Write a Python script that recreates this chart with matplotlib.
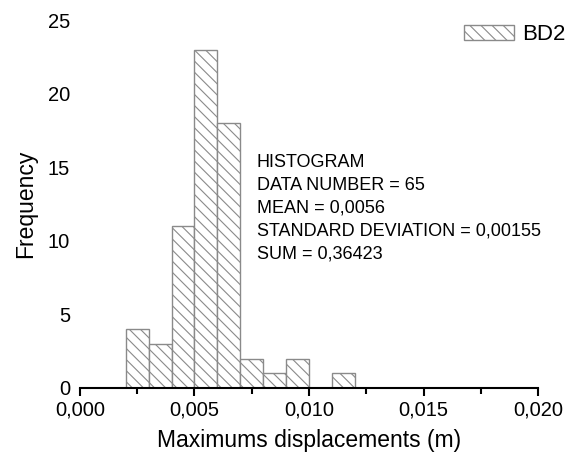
import numpy as np
import matplotlib.pyplot as plt
from matplotlib.ticker import MultipleLocator, FuncFormatter

plt.rcParams['font.family'] = ['Liberation Sans', 'DejaVu Sans']
plt.rcParams['hatch.color'] = '#6a6a6a'
plt.rcParams['hatch.linewidth'] = 0.8

# histogram of maximum displacements (bin width 1 mm)
bin_edges = [0.002, 0.003, 0.004, 0.005, 0.006, 0.007, 0.008, 0.009, 0.010, 0.011, 0.012]
counts = [4, 3, 11, 23, 18, 2, 1, 2, 0, 1]

stats_lines = [
    "HISTOGRAM",
    "DATA NUMBER = 65",
    "MEAN = 0,0056",
    "STANDARD DEVIATION = 0,00155",
    "SUM = 0,36423",
]

fig = plt.figure(figsize=(5.87, 4.57), dpi=100)
ax = fig.add_axes([0.136, 0.151, 0.781, 0.805])

left = np.array(bin_edges[:-1])
width = np.diff(bin_edges)
ax.bar(left, counts, width=width, align='edge', color='white',
       edgecolor='#8a8a8a', linewidth=1.0, hatch='\\\\\\', label='BD2')

ax.set_xlim(0, 0.02)
ax.set_ylim(0, 25)
ax.xaxis.set_major_locator(MultipleLocator(0.005))
ax.xaxis.set_minor_locator(MultipleLocator(0.0025))
ax.yaxis.set_major_locator(MultipleLocator(5))
ax.xaxis.set_major_formatter(FuncFormatter(lambda v, p: f"{v:.3f}".replace('.', ',')))

for s in ['top', 'right', 'left']:
    ax.spines[s].set_visible(False)
ax.spines['bottom'].set_linewidth(1.5)
ax.tick_params(axis='x', which='major', direction='out', length=6, width=1.5,
               labelsize=14.5, pad=3)
ax.tick_params(axis='x', which='minor', direction='out', length=4, width=1.5)
ax.tick_params(axis='y', length=0, labelsize=14.5, pad=7)

ax.set_xlabel("Maximums displacements (m)", fontsize=16.5, labelpad=7)
ax.set_ylabel("Frequency", fontsize=16.5, labelpad=8)

ax.text(0.00772, 15.9, "\n".join(stats_lines), fontsize=13, va='top',
        linespacing=1.45)

leg = ax.legend(loc='upper right', bbox_to_anchor=(1.088, 1.025), frameon=False,
                fontsize=16, handlelength=2.25, handleheight=0.72, handletextpad=0.35,
                borderaxespad=0.2)

fig.savefig("out.png", dpi=100)
